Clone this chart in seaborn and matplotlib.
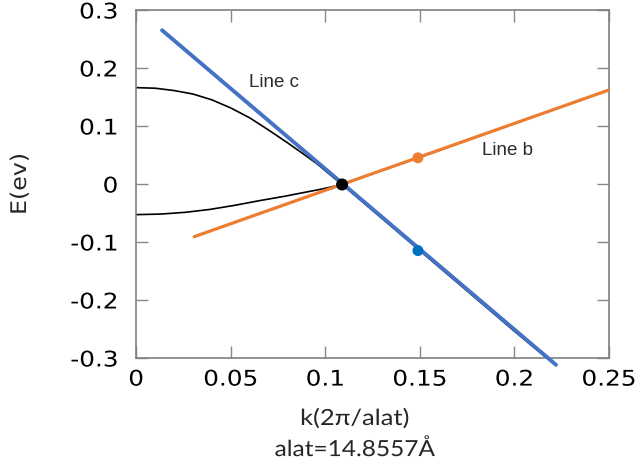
import matplotlib
matplotlib.use("Agg")
import matplotlib.pyplot as plt
import seaborn as sns
import pandas as pd
from matplotlib.patheffects import AbstractPathEffect
from matplotlib.transforms import Affine2D

# Band energies E (eV) along k (2π/alat)
k_upper = [0.000, 0.010, 0.020, 0.030, 0.040, 0.050, 0.060, 0.070, 0.080, 0.090,
           0.0955, 0.1025, 0.1089, 0.150, 0.200, 0.2174]
e_upper = [0.167, 0.166, 0.162, 0.156, 0.146, 0.132, 0.115, 0.094, 0.072, 0.049,
           0.036, 0.017, 0.000, -0.114, -0.253, -0.300]
k_lower = [0.000, 0.013, 0.026, 0.039, 0.052, 0.065, 0.079, 0.090, 0.098, 0.1089,
           0.150, 0.200, 0.250]
e_lower = [-0.052, -0.051, -0.048, -0.043, -0.036, -0.028, -0.020, -0.013, -0.008, 0.000,
           0.047, 0.105, 0.163]

# Linear fits
k_line_c = [0.0137, 0.222]
e_line_c = [0.266, -0.311]
k_line_b = [0.0307, 0.250]
e_line_b = [-0.090, 0.163]

# Marked points
k_dirac, e_dirac = [0.1089], [0.0]
k_b_pt, e_b_pt = [0.149], [0.046]
k_c_pt, e_c_pt = [0.149], [-0.114]

x_ticks = [0, 0.05, 0.1, 0.15, 0.2, 0.25]
x_tick_labels = ["0", "0.05", "0.1", "0.15", "0.2", "0.25"]
y_ticks = [-0.3, -0.2, -0.1, 0, 0.1, 0.2, 0.3]
y_tick_labels = ["-0.3", "-0.2", "-0.1", "0", "0.1", "0.2", "0.3"]


class Stretch(AbstractPathEffect):
    """Widen glyphs along the text direction about a chosen anchor."""

    def __init__(self, sx, anchor="center"):
        super().__init__()
        self.sx = sx
        self.anchor = anchor

    def draw_path(self, renderer, gc, tpath, affine, rgbFace=None):
        ext = tpath.get_extents()
        if self.anchor == "right":
            cx = ext.x1
        elif self.anchor == "left":
            cx = ext.x0
        else:
            cx = 0.5 * (ext.x0 + ext.x1)
        t = Affine2D().translate(-cx, 0).scale(self.sx, 1).translate(cx, 0)
        renderer.draw_path(gc, tpath, t + affine, rgbFace)


sns.set_style("ticks")
plt.rcParams["font.family"] = ["DejaVu Sans"]

fig = plt.figure(figsize=(6.42, 4.68), dpi=100)
ax = fig.add_axes([0.212, 0.234, 0.7366, 0.7436])

upper = pd.DataFrame({"k": k_upper, "E": e_upper})
lower = pd.DataFrame({"k": k_lower, "E": e_lower})
sns.lineplot(data=upper, x="k", y="E", color="black", linewidth=1.2, ax=ax, sort=False, zorder=2)
sns.lineplot(data=lower, x="k", y="E", color="black", linewidth=1.2, ax=ax, sort=False, zorder=2)

sns.lineplot(x=k_line_c, y=e_line_c, color="#4472C4", linewidth=2.8, ax=ax, zorder=3)
ax.lines[-1].set_clip_on(False)
sns.lineplot(x=k_line_b, y=e_line_b, color="#ED7D31", linewidth=2.3, ax=ax, zorder=3)

sns.scatterplot(x=k_b_pt, y=e_b_pt, color="#ED7D31", s=62, edgecolor="none", ax=ax, zorder=5)
sns.scatterplot(x=k_c_pt, y=e_c_pt, color="#0070C0", s=62, edgecolor="none", ax=ax, zorder=5)
sns.scatterplot(x=k_dirac, y=e_dirac, color="black", s=75, edgecolor="none", ax=ax, zorder=6)

ax.text(0.0729, 0.176, "Line c", fontsize=13.5, family="Liberation Sans",
        ha="center", va="center", color="#2a2a2a")
ax.text(0.1966, 0.0586, "Line b", fontsize=13.5, family="Liberation Sans",
        ha="center", va="center", color="#2a2a2a")

ax.set_xlim(0, 0.25)
ax.set_ylim(-0.3, 0.3)
ax.set_xticks(x_ticks)
ax.set_xticklabels(x_tick_labels)
ax.set_yticks(y_ticks)
ax.set_yticklabels(y_tick_labels)
ax.tick_params(direction="in", length=8.5, width=1, color="#888888",
               labelsize=15.5, top=True, right=True, labelcolor="black")
ax.tick_params(axis="x", pad=8)
ax.tick_params(axis="y", pad=13)
for sp in ax.spines.values():
    sp.set_visible(True)
    sp.set_color("#808080")
    sp.set_linewidth(1.2)

ax.set_xlabel("")
ax.set_ylabel("")
fig.text(355 / 642, 1 - 419 / 468, "k(2π/alat)", fontsize=16, family=["Lato", "DejaVu Sans"],
         ha="center", va="center", path_effects=[Stretch(1.15)])
fig.text(355 / 642, 1 - 450 / 468, "alat=14.8557Å", fontsize=16, family=["Lato", "DejaVu Sans"],
         ha="center", va="center", path_effects=[Stretch(1.1)])
fig.text(20 / 642, 1 - 184 / 468, "E(ev)", fontsize=15.5, rotation=90,
         ha="center", va="center", path_effects=[Stretch(1.1)])

for lbl in ax.get_xticklabels():
    lbl.set_path_effects([Stretch(1.15, "center")])
for lbl in ax.get_yticklabels():
    lbl.set_path_effects([Stretch(1.15, "right")])

fig.savefig("out.png", dpi=100)
